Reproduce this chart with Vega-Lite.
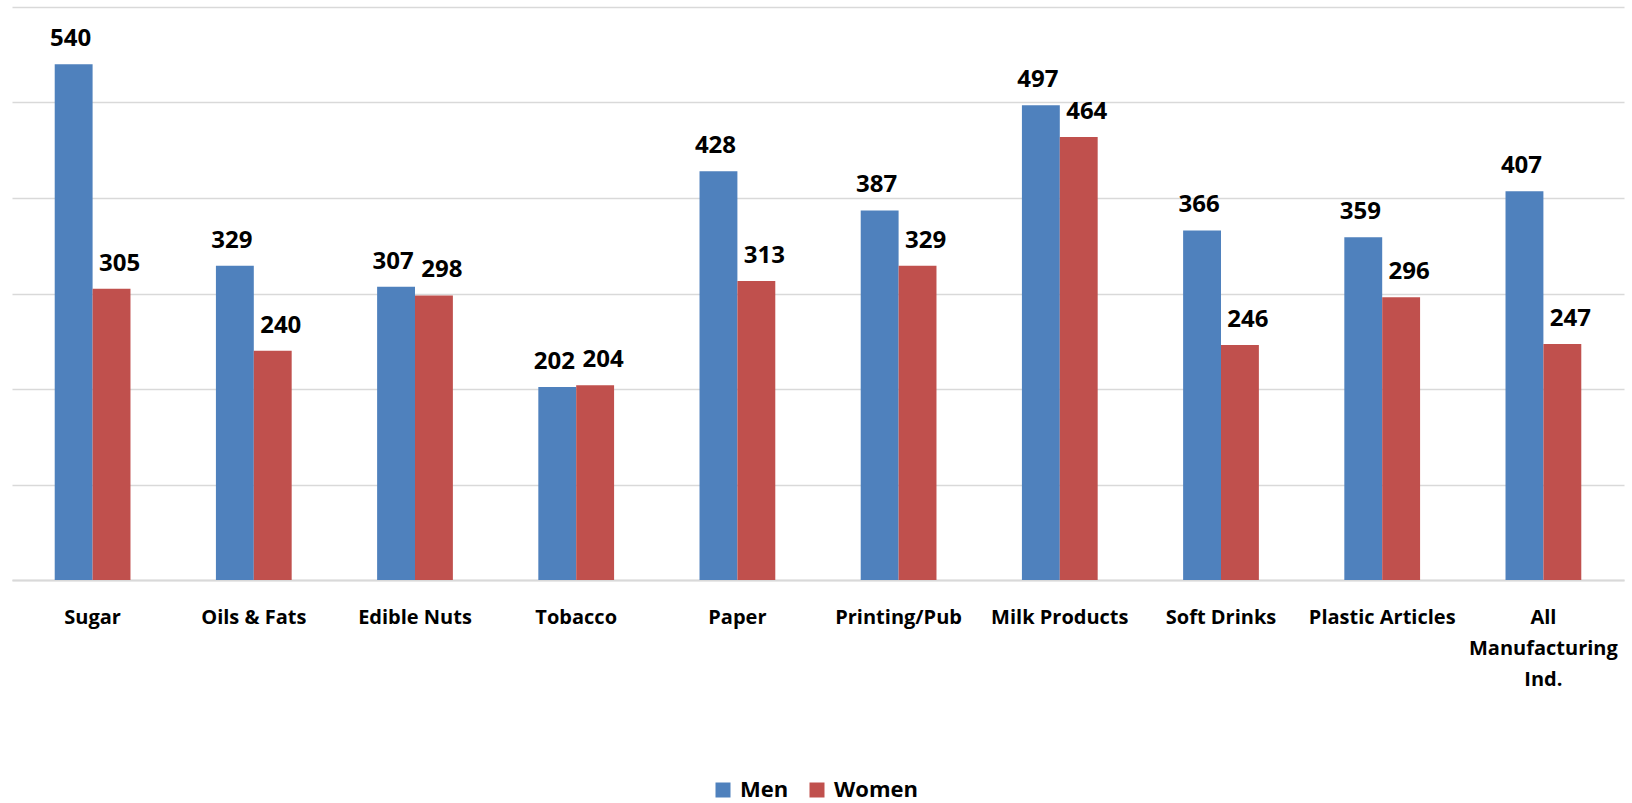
{
  "$schema": "https://vega.github.io/schema/vega-lite/v6.json",
  "width": 1612,
  "height": 573,
  "autosize": {"type": "none"},
  "padding": {"left": 12, "top": 7, "right": 8, "bottom": 223},
  "background": "white",
  "config": {"view": {"stroke": null}, "font": "Open Sans"},
  "data": {
    "values": [
      {"industry": "Sugar", "sex": "Men", "value": 540},
      {"industry": "Sugar", "sex": "Women", "value": 305},
      {"industry": "Oils & Fats", "sex": "Men", "value": 329},
      {"industry": "Oils & Fats", "sex": "Women", "value": 240},
      {"industry": "Edible Nuts", "sex": "Men", "value": 307},
      {"industry": "Edible Nuts", "sex": "Women", "value": 298},
      {"industry": "Tobacco", "sex": "Men", "value": 202},
      {"industry": "Tobacco", "sex": "Women", "value": 204},
      {"industry": "Paper", "sex": "Men", "value": 428},
      {"industry": "Paper", "sex": "Women", "value": 313},
      {"industry": "Printing/Pub", "sex": "Men", "value": 387},
      {"industry": "Printing/Pub", "sex": "Women", "value": 329},
      {"industry": "Milk Products", "sex": "Men", "value": 497},
      {"industry": "Milk Products", "sex": "Women", "value": 464},
      {"industry": "Soft Drinks", "sex": "Men", "value": 366},
      {"industry": "Soft Drinks", "sex": "Women", "value": 246},
      {"industry": "Plastic Articles", "sex": "Men", "value": 359},
      {"industry": "Plastic Articles", "sex": "Women", "value": 296},
      {"industry": "All Manufacturing Ind.", "sex": "Men", "value": 407},
      {"industry": "All Manufacturing Ind.", "sex": "Women", "value": 247}
    ]
  },
  "encoding": {
    "x": {
      "field": "industry",
      "type": "nominal",
      "sort": null,
      "scale": {"paddingInner": 0.53, "paddingOuter": 0.265},
      "axis": {
        "title": null,
        "labelAngle": 0,
        "labelFont": "Open Sans",
        "labelFontWeight": "bold",
        "labelFontSize": 20,
        "labelColor": "black",
        "labelPadding": 27,
        "labelLineHeight": 31,
        "labelExpr": "datum.label == 'All Manufacturing Ind.' ? ['All', 'Manufacturing', 'Ind.'] : datum.label",
        "ticks": false,
        "domainColor": "#d9d9d9",
        "domainWidth": 2,
        "grid": false
      }
    },
    "xOffset": {"field": "sex", "type": "nominal", "scale": {"paddingInner": 0, "paddingOuter": 0}},
    "y": {
      "field": "value",
      "type": "quantitative",
      "scale": {"domain": [0, 600]},
      "axis": {
        "title": null,
        "labels": false,
        "ticks": false,
        "domain": false,
        "tickCount": 6,
        "gridColor": "#d9d9d9",
        "gridWidth": 1.5
      }
    }
  },
  "layer": [
    {
      "mark": {"type": "bar"},
      "encoding": {
        "color": {
          "field": "sex",
          "type": "nominal",
          "scale": {"domain": ["Men", "Women"], "range": ["#4F81BD", "#C0504D"]},
          "legend": {
            "title": null,
            "orient": "none",
            "direction": "horizontal",
            "legendX": 700,
            "legendY": 772,
            "symbolType": "square",
            "symbolSize": 225,
            "symbolStrokeWidth": 0,
            "labelFont": "Open Sans",
            "labelFontWeight": "bold",
            "labelFontSize": 22,
            "labelColor": "black",
            "columnPadding": 17,
            "labelOffset": 6
          }
        }
      }
    },
    {
      "transform": [{"filter": "datum.sex == 'Men'"}],
      "mark": {"type": "text", "baseline": "alphabetic", "dy": -18, "dx": -3, "font": "Open Sans", "fontWeight": "bold", "fontSize": 24, "color": "black"},
      "encoding": {"text": {"field": "value", "type": "quantitative"}}
    },
    {
      "transform": [{"filter": "datum.sex == 'Women'"}],
      "mark": {"type": "text", "baseline": "alphabetic", "dy": -18, "dx": 8, "font": "Open Sans", "fontWeight": "bold", "fontSize": 24, "color": "black"},
      "encoding": {"text": {"field": "value", "type": "quantitative"}}
    }
  ]
}
